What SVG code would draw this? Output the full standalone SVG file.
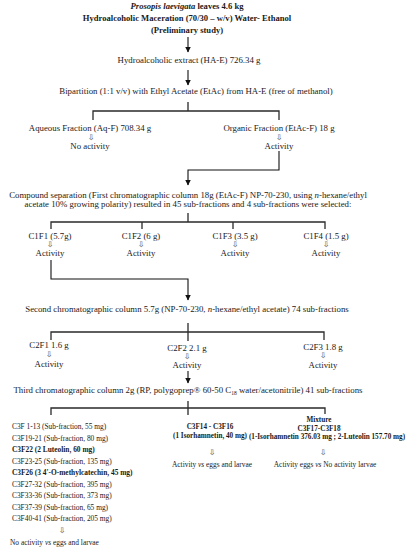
<svg xmlns="http://www.w3.org/2000/svg" width="407" height="550" viewBox="0 0 407 550">
<defs>
<marker id="ah" viewBox="0 0 6 6" refX="5.5" refY="3" markerWidth="6" markerHeight="6" markerUnits="userSpaceOnUse" orient="auto">
<path d="M0,0 L6,3 L0,6 z" fill="#111"/>
</marker>
<style>
text{font-family:"Liberation Serif","Times New Roman",serif;fill:#1a1a1a}
.m{font-size:8.8px;text-anchor:middle}
.b{font-weight:bold}
.i{font-style:italic}
.l{font-size:7.4px}
.s{font-size:7.4px;text-anchor:middle}
.sb{font-size:7.2px;text-anchor:middle;font-weight:bold}
.d{font-family:"DejaVu Sans",sans-serif;font-size:8px;text-anchor:middle;fill:#444}
.c{fill:none;stroke:#2a2a2a;stroke-width:1.3}
.a{fill:none;stroke:#111;stroke-width:1.1;marker-end:url(#ah)}
</style>
</defs>
<g id="connectors">
<path class="a" d="M188,37 V52"/>
<path class="a" d="M188,70 V85"/>
<path class="c" d="M188,102 V111 M93,120 V111 H279 V120"/>
<path class="a" d="M279,151 V170 H188 V185"/>
<path class="c" d="M188,213 V222 M51,229 V222 H325 V229 M142,222 V229 M233,222 V229"/>
<path class="a" d="M51,260 V279 H188 V300"/>
<path class="c" d="M188,323 V341 M51,340 V332 H324 V340"/>
<path class="a" d="M188,371 V383"/>
<path class="c" d="M188,401 V415 M51,415 V408 H325 V414"/>
</g>
<g id="start">
<text class="m b" x="187" y="9" style="font-size:8.6px"><tspan class="i">Prosopis laevigata</tspan> leaves 4.6 kg</text>
<text class="m b" x="187" y="21" style="font-size:8.6px">Hydroalcoholic Maceration (70/30 – w/v) Water- Ethanol</text>
<text class="m b" x="187" y="33" style="font-size:8.6px">(Preliminary study)</text>
</g>
<g id="extract"><text class="m" x="189" y="63">Hydroalcoholic extract (HA-E) 726.34 g</text></g>
<g id="bipartition"><text class="m" x="196" y="94">Bipartition (1:1 v/v) with Ethyl Acetate (EtAc) from HA-E (free of methanol)</text></g>
<g id="aqueous">
<text class="m" x="90" y="131">Aqueous Fraction (Aq-F) 708.34 g</text>
<text class="d" x="91" y="140">⇩</text>
<text class="m" x="90" y="149">No activity</text>
</g>
<g id="organic">
<text class="m" x="279" y="131">Organic Fraction (EtAc-F) 18 g</text>
<text class="d" x="279" y="140">⇩</text>
<text class="m" x="279" y="149">Activity</text>
</g>
<g id="compound">
<text class="m" x="188" y="198">Compound separation (First chromatographic column 18g (EtAc-F) NP-70-230, using <tspan class="i">n</tspan>-hexane/ethyl</text>
<text class="m" x="188" y="207">acetate 10% growing polarity) resulted in 45 sub-fractions and 4 sub-fractions were selected:</text>
</g>
<g id="c1f1"><text class="m" x="50" y="239">C1F1 (5.7g)</text><text class="d" x="50" y="247">⇩</text><text class="m" x="50" y="256">Activity</text></g>
<g id="c1f2"><text class="m" x="141" y="239">C1F2 (6 g)</text><text class="d" x="141" y="247">⇩</text><text class="m" x="141" y="256">Activity</text></g>
<g id="c1f3"><text class="m" x="235" y="239">C1F3 (3.5 g)</text><text class="d" x="235" y="247">⇩</text><text class="m" x="235" y="256">Activity</text></g>
<g id="c1f4"><text class="m" x="326" y="239">C1F4 (1.5 g)</text><text class="d" x="326" y="247">⇩</text><text class="m" x="326" y="256">Activity</text></g>
<g id="second"><text class="m" x="187" y="312">Second chromatographic column 5.7g (NP-70-230, <tspan class="i">n</tspan>-hexane/ethyl acetate) 74 sub-fractions</text></g>
<g id="c2f1"><text class="m" x="49" y="348">C2F1 1.6 g</text><text class="d" x="49" y="357">⇩</text><text class="m" x="49" y="367">Activity</text></g>
<g id="c2f2"><text class="m" x="187" y="351">C2F2 2.1 g</text><text class="d" x="187" y="359">⇩</text><text class="m" x="187" y="368">Activity</text></g>
<g id="c2f3"><text class="m" x="323" y="350">C2F3 1.8 g</text><text class="d" x="323" y="358">⇩</text><text class="m" x="323" y="368">Activity</text></g>
<g id="third"><text class="m" x="188" y="393">Third chromatographic column 2g (RP, polygoprep® 60-50 C<tspan font-size="5.5px" dy="1.5">18</tspan><tspan dy="-1.5"> water/acetonitrile) 41 sub-fractions</tspan></text></g>
<g id="list">
<text class="l" x="12" y="429">C3F 1-13 (Sub-fraction, 55 mg)</text>
<text class="l" x="12" y="440.5">C3F19-21 (Sub-fraction, 80 mg)</text>
<text class="l b" x="12" y="452">C3F22 (2 Luteolin, 60 mg)</text>
<text class="l" x="12" y="463.5">C3F23-25 (Sub-fraction, 135 mg)</text>
<text class="l b" x="12" y="475">C3F26 (3 4'-O-methylcatechin, 45 mg)</text>
<text class="l" x="12" y="486.5">C3F27-32 (Sub-fraction, 395 mg)</text>
<text class="l" x="12" y="498">C3F33-36 (Sub-fraction, 373 mg)</text>
<text class="l" x="12" y="509.5">C3F37-39 (Sub-fraction, 65 mg)</text>
<text class="l" x="12" y="521">C3F40-41 (Sub-fraction, 205 mg)</text>
<text class="d" x="62" y="533">⇩</text>
<text class="l" x="10" y="545">No activity <tspan class="i">vs</tspan> eggs and larvae</text>
</g>
<g id="c3f14">
<text class="sb" x="210" y="429">C3F14 - C3F16</text>
<text class="sb" x="210" y="437.5">(1 Isorhamnetin, 40 mg)</text>
<text class="d" x="212" y="455">⇩</text>
<text class="s" x="212" y="467">Activity <tspan class="i">vs</tspan> eggs and larvae</text>
</g>
<g id="mixture">
<text class="sb" x="319" y="422">Mixture</text>
<text class="sb" x="319" y="430.5">C3F17-C3F18</text>
<text class="sb" x="327" y="439">(1-Isorhamnetin 376.03 mg ; 2-Luteolin 157.70 mg)</text>
<text class="d" x="323" y="455">⇩</text>
<text class="s" x="325" y="467">Activity  eggs <tspan class="i">vs</tspan> No activity larvae</text>
</g>
</svg>
